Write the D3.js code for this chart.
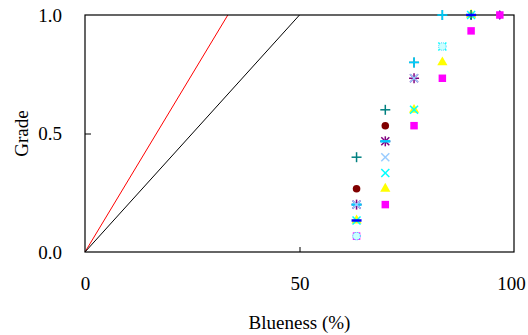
<!DOCTYPE html>
<html>
<head>
<meta charset="utf-8">
<script src="https://cdn.jsdelivr.net/npm/d3@7"></script>
<style>
  body { margin: 0; background: #fff; }
  text { font-family: "Liberation Serif", "Times New Roman", serif; }
</style>
</head>
<body>
<script>
// data columns (blueness %) and grade series
var xCols = [63.3, 70, 76.7, 83.3, 90, 96.7];

var navyDiamond   = [null, null, null, null, 1.0, 1.0];
var magentaSquare = [0.067, 0.2, 0.533, 0.733, 0.933, 1.0];
var yellowTri     = [0.133, 0.267, 0.6, 0.8, 1.0, null];
var cyanX         = [0.133, 0.333, 0.6, 0.867, 1.0, null];
var purpleStar    = [0.2, 0.467, 0.733, null, null, null];
var darkRedCircle = [0.267, 0.533, null, null, null, null];
var tealPlus      = [0.4, 0.6, 0.8, 1.0, 1.0, null];
var blueDash      = [0.133, null, null, null, 1.0, null];
var skyDash       = [0.2, 0.467, null, null, null, null];
var paleX         = [0.2, 0.4, 0.733, null, null, null];
var skyPlus       = [null, null, 0.8, 1.0, null, null];
var turqCircle    = [0.067, null, null, 0.867, null, null];

var series = [
  { y: navyDiamond, mark: "diamond", color: "#000080" },
  { y: magentaSquare, mark: "square", color: "#ff00ff" },
  { y: yellowTri, mark: "triangle", color: "#ffff00" },
  { y: cyanX, mark: "x", color: "#00ffff" },
  { y: purpleStar, mark: "star", color: "#800080" },
  { y: darkRedCircle, mark: "circle", color: "#800000" },
  { y: tealPlus, mark: "plus", color: "#008080" },
  { y: blueDash, mark: "dash", color: "#0000ff" },
  { y: skyDash, mark: "dash", color: "#00ccff" },
  { y: paleX, mark: "x", color: "#99ccff" },
  { y: skyPlus, mark: "plus", color: "#00ccff" },
  { y: turqCircle, mark: "circle", color: "#ccffff", edge: "#00ccff" }
];

// reference lines from origin
var redLine = [[0, 0], [33.3, 1]];
var blackLine = [[0, 0], [50, 1]];

var xTicks = [0, 50, 100];
var yTicks = [0, 0.5, 1];

var W = 528, H = 335;
var margin = {top: 15, right: 14, bottom: 83, left: 85};

var svg = d3.select("body").append("svg")
    .attr("width", W).attr("height", H);

var x = d3.scaleLinear().domain([0, 100]).range([margin.left, W - margin.right]);
var y = d3.scaleLinear().domain([0, 1]).range([H - margin.bottom, margin.top]);

var line = d3.line().x(function(d) { return x(d[0]); }).y(function(d) { return y(d[1]); });

svg.append("path").attr("d", line(redLine))
    .attr("stroke", "#ff0000").attr("fill", "none").attr("stroke-width", 1);
svg.append("path").attr("d", line(blackLine))
    .attr("stroke", "#000").attr("fill", "none").attr("stroke-width", 1);

// frame
svg.append("rect")
    .attr("x", x(0)).attr("y", y(1))
    .attr("width", x(100) - x(0)).attr("height", y(0) - y(1))
    .attr("fill", "none").attr("stroke", "#000").attr("stroke-width", 1.2);

// axes (inward ticks)
var xAxis = d3.axisBottom(x).tickValues(xTicks).tickSize(-5).tickPadding(26)
    .tickFormat(d3.format("d"));
var gx = svg.append("g").attr("transform", "translate(0," + y(0) + ")").call(xAxis);

var yAxis = d3.axisLeft(y).tickValues(yTicks).tickSize(-6).tickPadding(23)
    .tickFormat(d3.format(".1f"));
var gy = svg.append("g").attr("transform", "translate(" + x(0) + ",0)").call(yAxis);

[gx, gy].forEach(function(g) {
  g.attr("font-size", 19).attr("font-family", "Liberation Serif");
  g.select(".domain").remove();
  g.selectAll(".tick line").attr("stroke", "#000");
  g.selectAll(".tick text").attr("fill", "#000");
});
gx.selectAll(".tick text").attr("dy", "0.71em").attr("y", 25);
gx.selectAll(".tick text").filter(function(d) { return d === 100; }).attr("dx", -3);
gx.selectAll(".tick line").filter(function(d) { return d === 0 || d === 100; }).remove();
gy.selectAll(".tick line").filter(function(d) { return d === 0 || d === 1; }).remove();

svg.append("text").attr("x", (x(0) + x(100)) / 2).attr("y", 329)
    .attr("text-anchor", "middle").attr("font-size", 19).text("Blueness (%)");
svg.append("text")
    .attr("transform", "translate(28," + y(0.5) + ") rotate(-90)")
    .attr("text-anchor", "middle").attr("font-size", 19).text("Grade");

// markers
var sym = {
  diamond: d3.symbol().type(d3.symbolDiamond).size(30),
  square: d3.symbol().type(d3.symbolSquare).size(56),
  triangle: d3.symbol().type(d3.symbolTriangle).size(45),
  circle: d3.symbol().type(d3.symbolCircle).size(45)
};

series.forEach(function(s) {
  var pts = s.y.map(function(v, i) { return [xCols[i], v]; })
    .filter(function(p) { return p[1] !== null; });
  var g = svg.append("g");
  pts.forEach(function(p) {
    var cx = x(p[0]), cy = y(p[1]);
    var mg = g.append("g").attr("transform", "translate(" + cx + "," + cy + ")");
    if (sym[s.mark]) {
      var m = mg.append("path").attr("d", sym[s.mark]()).attr("fill", s.color);
      if (s.edge) m.attr("stroke", s.edge).attr("stroke-width", 0.8).attr("stroke-dasharray", "1,1");
    } else {
      var r = 4;
      var segs = [];
      if (s.mark === "x" || s.mark === "star") segs.push([-r, -r, r, r], [-r, r, r, -r]);
      if (s.mark === "plus" || s.mark === "star") segs.push([0, -r - 1, 0, r + 1]);
      if (s.mark === "plus" || s.mark === "star" || s.mark === "dash") segs.push([-r - 1, 0, r + 1, 0]);
      segs.forEach(function(q) {
        mg.append("line").attr("x1", q[0]).attr("y1", q[1]).attr("x2", q[2]).attr("y2", q[3])
          .attr("stroke", s.color).attr("stroke-width", s.mark === "dash" ? 2.5 : 1.5);
      });
    }
  });
});
</script>
</body>
</html>
